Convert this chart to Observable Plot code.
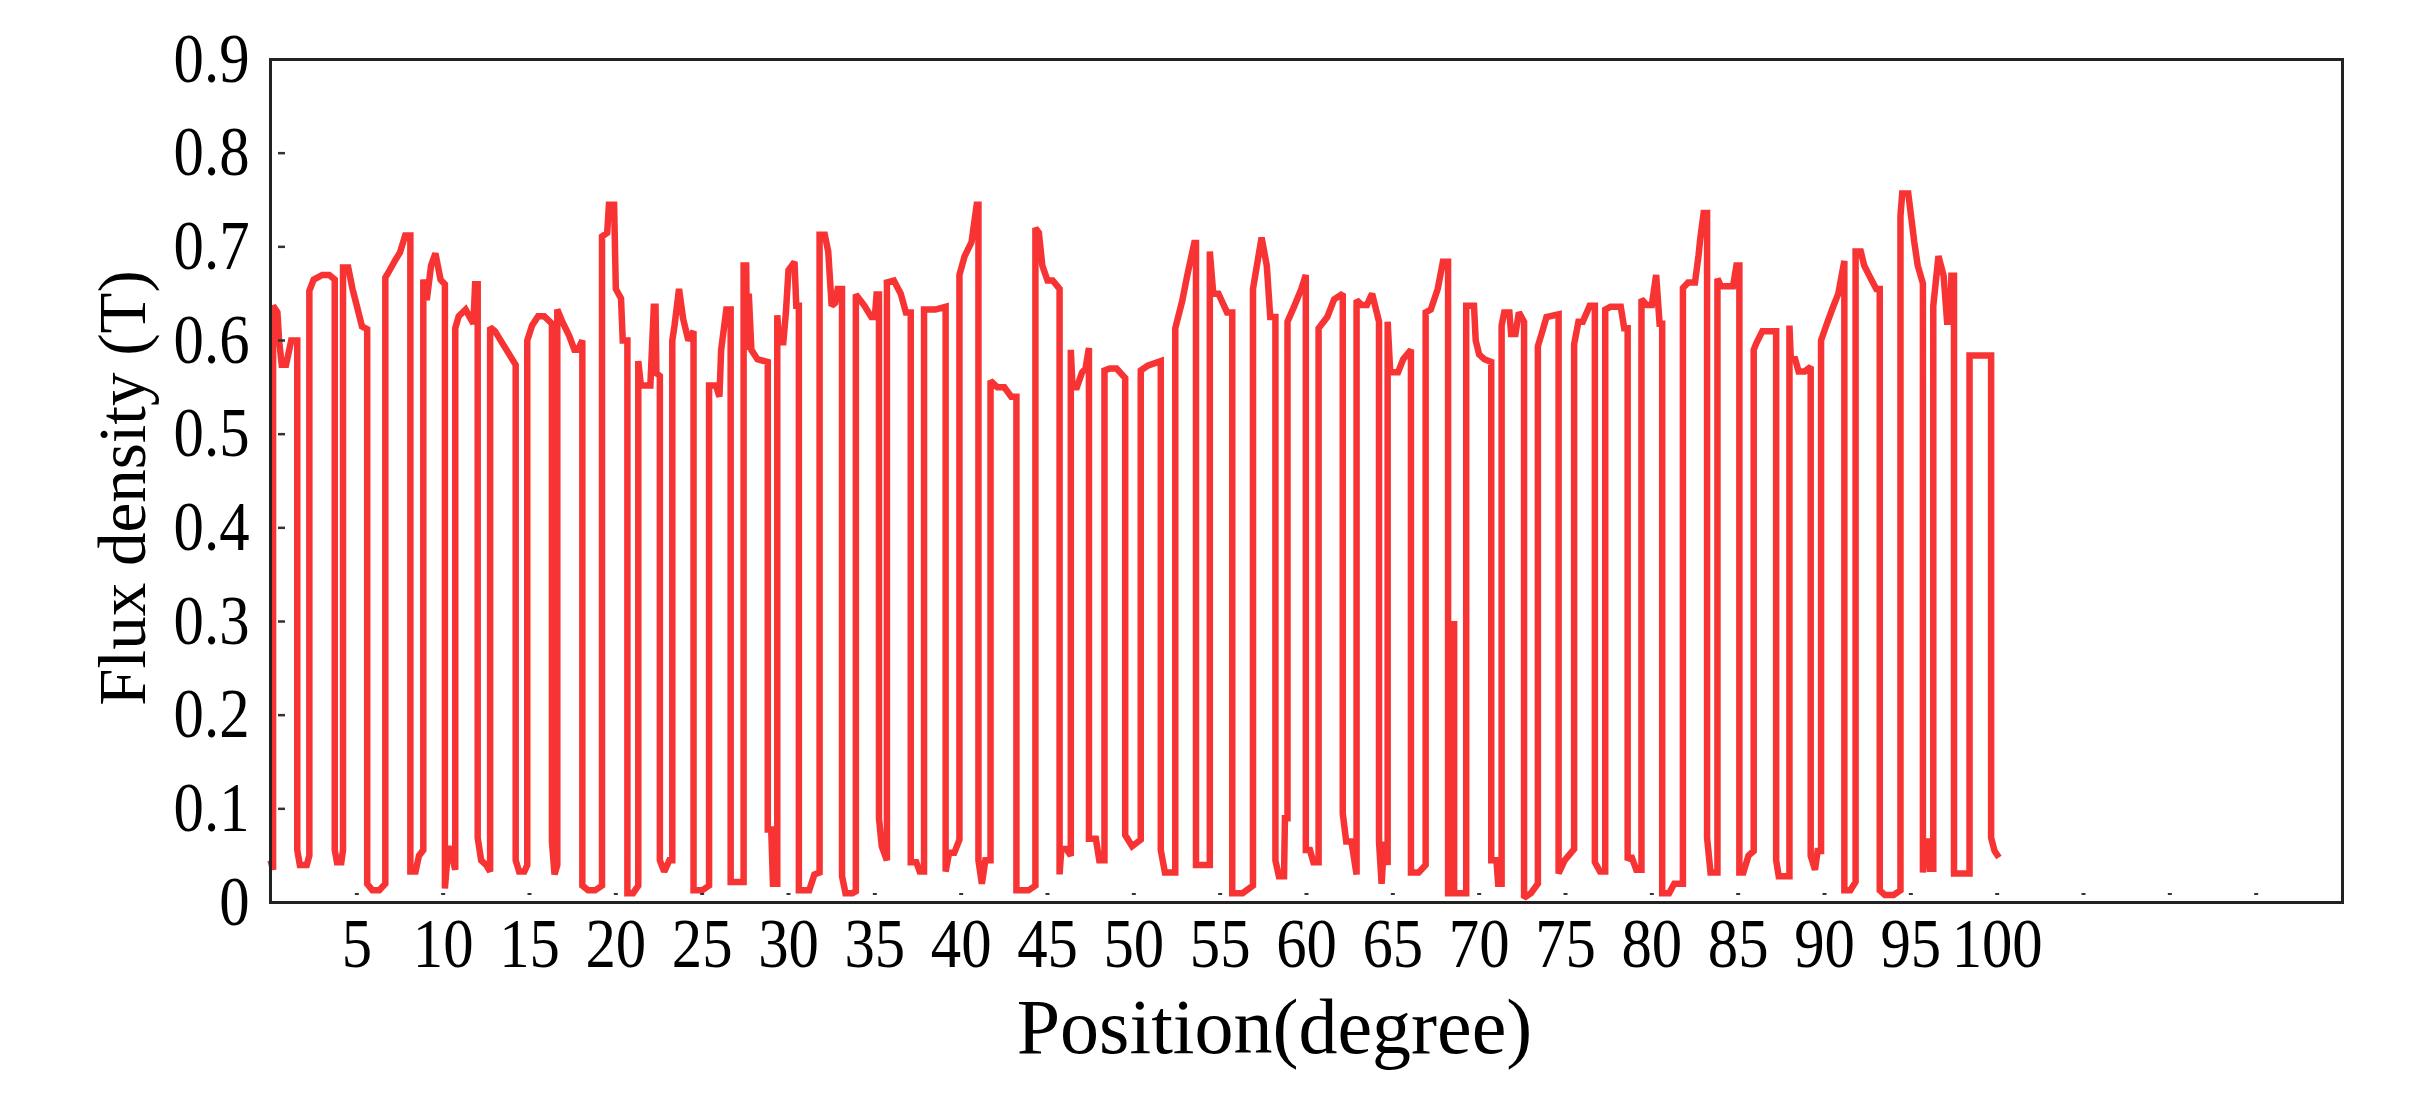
<!DOCTYPE html>
<html>
<head>
<meta charset="utf-8">
<script src="https://cdn.jsdelivr.net/npm/d3@7"></script>
<script src="https://cdn.jsdelivr.net/npm/@observablehq/plot@0.6"></script>
<style>
  html, body { margin: 0; padding: 0; background: #fff; }
  svg { display: block; }
</style>
</head>
<body>
<div id="chart"></div>
<script>
// ---- tick definitions ----
const xLabelTicks = [5,10,15,20,25,30,35,40,45,50,55,60,65,70,75,80,85,90,95,100];
const xMinorTicks = [5,10,15,20,25,30,35,40,45,50,55,60,65,70,75,80,85,90,95,100,105,110,115];
const yLabelTicks = [0,0.1,0.2,0.3,0.4,0.5,0.6,0.7,0.8,0.9];
const yMinorTicks = [0.1,0.2,0.3,0.4,0.5,0.6,0.7,0.8];

// ---- waveform vertices [position (degree), flux density (T)] ----
const startLow = [[0,0.045],[0.15,0.035]];
const highs = [
  [[0.15,0.637],[0.4,0.63],[0.5,0.6],[0.65,0.574],[0.9,0.574],[1.2,0.6],[1.55,0.6]],
  [[2.25,0.653],[2.5,0.665],[3.0,0.67],[3.4,0.67],[3.72,0.665]],
  [[4.2,0.678],[4.5,0.678],[4.75,0.655],[5.0,0.637],[5.3,0.615],[5.6,0.612]],
  [[6.65,0.667],[6.9,0.675],[7.2,0.685],[7.5,0.694],[7.8,0.712],[8.1,0.712]],
  [[8.85,0.665],[9.05,0.643],[9.3,0.68],[9.55,0.693],[9.85,0.665],[10.1,0.66]],
  [[10.7,0.613],[10.9,0.626],[11.3,0.633],[11.75,0.618],[11.85,0.66],[12.0,0.66]],
  [[12.72,0.614],[13.0,0.61],[13.4,0.598],[13.8,0.586],[14.2,0.574]],
  [[14.87,0.6],[15.15,0.616],[15.5,0.626],[15.85,0.626],[16.3,0.618]],
  [[16.61,0.633],[16.9,0.62],[17.3,0.605],[17.6,0.59],[17.8,0.59],[18.06,0.6]],
  [[19.2,0.711],[19.5,0.715],[19.6,0.745],[19.9,0.745],[20.0,0.655],[20.3,0.645],[20.4,0.6],[20.67,0.6]],
  [[21.3,0.578],[21.45,0.552],[22.0,0.552],[22.2,0.636],[22.3,0.636],[22.35,0.565],[22.55,0.562]],
  [[23.27,0.6],[23.4,0.616],[23.66,0.655],[23.9,0.623],[24.2,0.6],[24.5,0.61]],
  [[25.4,0.552],[25.8,0.552],[26.0,0.54],[26.1,0.59],[26.4,0.633],[26.65,0.633]],
  [[27.4,0.68],[27.55,0.68],[27.6,0.59],[27.7,0.65],[27.85,0.59],[28.2,0.58],[28.8,0.577]],
  [[29.35,0.627],[29.45,0.598],[29.7,0.598],[29.85,0.63],[30.0,0.675],[30.35,0.684],[30.45,0.637],[30.6,0.637]],
  [[31.8,0.713],[32.1,0.713],[32.3,0.695],[32.5,0.637],[32.7,0.64],[32.85,0.655],[33.1,0.655]],
  [[33.9,0.649],[34.4,0.637],[34.8,0.625],[35.0,0.625],[35.1,0.649],[35.24,0.649]],
  [[35.7,0.662],[36.1,0.664],[36.5,0.65],[36.8,0.63],[37.08,0.63]],
  [[37.85,0.633],[38.5,0.633],[39.1,0.636]],
  [[39.9,0.67],[40.2,0.69],[40.6,0.705],[40.9,0.745],[41.0,0.745]],
  [[41.7,0.557],[42.1,0.55],[42.5,0.55],[42.9,0.54],[43.2,0.54]],
  [[44.3,0.72],[44.5,0.715],[44.7,0.68],[45.0,0.664],[45.3,0.664],[45.7,0.655]],
  [[46.35,0.59],[46.45,0.55],[46.7,0.55],[47.0,0.566],[47.2,0.57],[47.4,0.592]],
  [[48.3,0.568],[48.6,0.57],[49.0,0.57],[49.5,0.56]],
  [[50.4,0.568],[50.8,0.573],[51.56,0.578]],
  [[52.4,0.613],[52.8,0.642],[53.1,0.67],[53.5,0.704],[53.6,0.704]],
  [[54.4,0.695],[54.6,0.65],[54.9,0.65],[55.4,0.63],[55.7,0.63]],
  [[56.9,0.655],[57.1,0.677],[57.4,0.71],[57.7,0.68],[57.9,0.625],[58.2,0.625]],
  [[58.9,0.62],[59.3,0.637],[59.7,0.655],[59.96,0.67]],
  [[60.7,0.613],[61.2,0.625],[61.6,0.644],[62.1,0.65]],
  [[62.9,0.643],[63.2,0.638],[63.5,0.638],[63.8,0.65],[64.2,0.62]],
  [[64.7,0.62],[64.85,0.566],[65.3,0.566],[65.6,0.58],[66.05,0.59]],
  [[66.9,0.63],[67.2,0.633],[67.6,0.655],[67.9,0.684],[68.2,0.684]],
  [[69.25,0.637],[69.7,0.637],[69.8,0.6],[70.0,0.585],[70.3,0.58],[70.7,0.577]],
  [[71.3,0.616],[71.45,0.63],[71.75,0.63],[71.85,0.607],[72.1,0.607],[72.3,0.63],[72.6,0.62]],
  [[73.4,0.594],[73.6,0.606],[73.9,0.625],[74.6,0.628]],
  [[75.5,0.596],[75.75,0.62],[76.0,0.62],[76.4,0.637],[76.7,0.637]],
  [[77.3,0.633],[77.6,0.636],[78.2,0.636],[78.4,0.613],[78.6,0.613]],
  [[79.4,0.644],[79.7,0.638],[80.0,0.638],[80.25,0.67],[80.45,0.618],[80.6,0.618]],
  [[81.8,0.656],[82.1,0.662],[82.5,0.662],[82.7,0.69],[82.8,0.708],[83.0,0.736],[83.2,0.736]],
  [[83.8,0.666],[84.0,0.658],[84.7,0.658],[84.9,0.68],[85.07,0.68]],
  [[85.9,0.59],[86.05,0.597],[86.4,0.61],[87.2,0.61]],
  [[87.97,0.616],[88.05,0.58],[88.3,0.58],[88.5,0.567],[88.85,0.567],[89.2,0.572]],
  [[89.8,0.6],[90.1,0.616],[90.5,0.636],[90.8,0.65],[91.15,0.685]],
  [[91.8,0.695],[92.1,0.695],[92.3,0.68],[92.6,0.669],[93.0,0.655],[93.2,0.655]],
  [[94.4,0.733],[94.5,0.757],[94.85,0.757],[95.0,0.735],[95.2,0.705],[95.4,0.68],[95.7,0.661]],
  [[96.3,0.637],[96.6,0.69],[96.9,0.669],[97.1,0.62],[97.3,0.62],[97.35,0.669],[97.5,0.669]],
  [[98.4,0.584],[99.65,0.584]]
];
const lows = [
  [[1.55,0.056],[1.7,0.04],[2.1,0.04],[2.25,0.05]],
  [[3.72,0.056],[3.85,0.043],[4.1,0.043],[4.2,0.056]],
  [[5.6,0.02],[5.9,0.013],[6.3,0.013],[6.65,0.02]],
  [[8.1,0.033],[8.4,0.033],[8.6,0.05],[8.85,0.056]],
  [[10.1,0.015],[10.3,0.06],[10.5,0.05],[10.7,0.035]],
  [[12.0,0.069],[12.2,0.045],[12.5,0.04],[12.72,0.033]],
  [[14.2,0.045],[14.4,0.033],[14.7,0.033],[14.87,0.04]],
  [[16.3,0.065],[16.45,0.03],[16.61,0.04]],
  [[18.06,0.018],[18.4,0.013],[18.8,0.013],[19.2,0.018]],
  [[20.67,0.01],[21.0,0.01],[21.3,0.018]],
  [[22.55,0.045],[22.8,0.033],[23.1,0.045],[23.27,0.045]],
  [[24.5,0.013],[25.0,0.013],[25.4,0.018]],
  [[26.65,0.022],[27.4,0.022]],
  [[28.8,0.078],[29.0,0.078],[29.1,0.02],[29.35,0.02]],
  [[30.6,0.013],[31.2,0.013],[31.5,0.03],[31.8,0.032]],
  [[33.1,0.028],[33.3,0.01],[33.7,0.01],[33.9,0.012]],
  [[35.24,0.09],[35.4,0.06],[35.7,0.045]],
  [[37.08,0.043],[37.4,0.043],[37.6,0.033],[37.85,0.033]],
  [[39.1,0.033],[39.3,0.053],[39.6,0.053],[39.9,0.067]],
  [[41.0,0.045],[41.2,0.02],[41.4,0.045],[41.7,0.045]],
  [[43.2,0.013],[43.9,0.013],[44.3,0.018]],
  [[45.7,0.03],[45.8,0.057],[46.1,0.057],[46.35,0.05]],
  [[47.4,0.068],[47.8,0.068],[48.0,0.045],[48.3,0.045]],
  [[49.5,0.072],[49.9,0.06],[50.4,0.067]],
  [[51.56,0.056],[51.8,0.032],[52.4,0.032]],
  [[53.6,0.04],[54.4,0.04]],
  [[55.7,0.01],[56.3,0.01],[56.9,0.018]],
  [[58.2,0.045],[58.4,0.028],[58.7,0.028],[58.75,0.09],[58.9,0.09]],
  [[59.96,0.056],[60.2,0.056],[60.4,0.043],[60.7,0.043]],
  [[62.1,0.095],[62.3,0.065],[62.6,0.065],[62.9,0.03]],
  [[64.2,0.065],[64.35,0.02],[64.5,0.065],[64.7,0.04]],
  [[66.05,0.032],[66.5,0.032],[66.9,0.04]],
  [[68.2,0.01],[68.4,0.01],[68.4,0.297],[68.55,0.297],[68.55,0.01],[69.25,0.01]],
  [[70.7,0.045],[71.0,0.045],[71.1,0.02],[71.3,0.02]],
  [[72.6,0.005],[73.0,0.01],[73.4,0.02]],
  [[74.6,0.031],[74.95,0.045],[75.5,0.057]],
  [[76.7,0.043],[77.0,0.033],[77.3,0.033]],
  [[78.6,0.045],[78.8,0.05],[79.1,0.035],[79.4,0.035]],
  [[80.6,0.01],[81.0,0.01],[81.3,0.02],[81.8,0.02]],
  [[83.2,0.069],[83.4,0.032],[83.8,0.032]],
  [[85.07,0.032],[85.3,0.032],[85.6,0.05],[85.9,0.055]],
  [[87.2,0.045],[87.35,0.028],[87.97,0.028]],
  [[89.2,0.05],[89.45,0.035],[89.6,0.055],[89.8,0.055]],
  [[91.15,0.013],[91.5,0.013],[91.8,0.022]],
  [[93.2,0.013],[93.5,0.008],[94.0,0.008],[94.4,0.013]],
  [[95.7,0.032],[95.8,0.065],[96.0,0.065],[96.1,0.036],[96.3,0.036]],
  [[97.5,0.031],[98.4,0.031]],
  [[99.65,0.069],[99.85,0.055],[100.1,0.048]]
];

// ---- assemble the polyline ----
const vertices = [...startLow];
highs.forEach((h, i) => { vertices.push(...h); vertices.push(...lows[i]); });
const wave = vertices.map(([deg, flux]) => ({deg, flux}));

const FONT = "'Liberation Serif', 'Times New Roman', serif";
const fmtY = d => d === 0 ? "0" : d.toFixed(1);

const chart = Plot.plot({
  width: 2422,
  height: 1109,
  marginLeft: 270,
  marginRight: 80,
  marginTop: 59,
  marginBottom: 207,
  style: {fontFamily: FONT, background: "#fff", color: "#000"},
  x: {domain: [0, 120], nice: false},
  y: {domain: [0, 0.9], nice: false},
  marks: [
    Plot.line(wave, {x: "deg", y: "flux", stroke: "#f83333", strokeWidth: 6.5, strokeLinejoin: "miter", strokeMiterlimit: 2, strokeLinecap: "butt"}),
    // inner tick marks
    Plot.axisY(yMinorTicks, {anchor: "left", tickSize: 7, dx: 15, tickFormat: () => "", stroke: "#333", strokeWidth: 2.5, label: null}),
    Plot.axisX(xMinorTicks, {anchor: "bottom", tickSize: 2, dy: -9, tickFormat: () => "", stroke: "#333", strokeWidth: 4, label: null}),
    // tick labels
    Plot.axisY(yLabelTicks, {anchor: "left", tickSize: 0, tickPadding: 21, tickFormat: fmtY, fontSize: 69, label: null}),
    Plot.axisX(xLabelTicks, {anchor: "bottom", tickSize: 0, tickPadding: 15, tickFormat: d => String(d), fontSize: 69, label: null}),
    // axis titles
    Plot.text(["Position(degree)"], {frameAnchor: "bottom", textAnchor: "middle", lineAnchor: "middle", dy: 126, dx: -32, fontSize: 78, fill: "#000"}),
    Plot.text(["Flux density (T)"], {frameAnchor: "left", textAnchor: "middle", lineAnchor: "middle", rotate: -90, dx: -147, dy: 7, fontSize: 67, fill: "#000"}),
    Plot.frame({stroke: "#222", strokeWidth: 3})
  ]
});

// slightly condensed tick-label glyphs, as in the source figure
chart.querySelectorAll('g[aria-label="y-axis tick label"] text, g[aria-label="x-axis tick label"] text').forEach(t => {
  const tr = t.getAttribute("transform");
  if (tr) {
    t.setAttribute("transform", tr + " scale(0.88,1)");
  } else {
    const x = t.getAttribute("x") || 0, y = t.getAttribute("y") || 0;
    t.removeAttribute("x"); t.removeAttribute("y");
    t.setAttribute("transform", `translate(${x},${y}) scale(0.88,1)`);
  }
});

document.getElementById("chart").appendChild(chart);
</script>
</body>
</html>
